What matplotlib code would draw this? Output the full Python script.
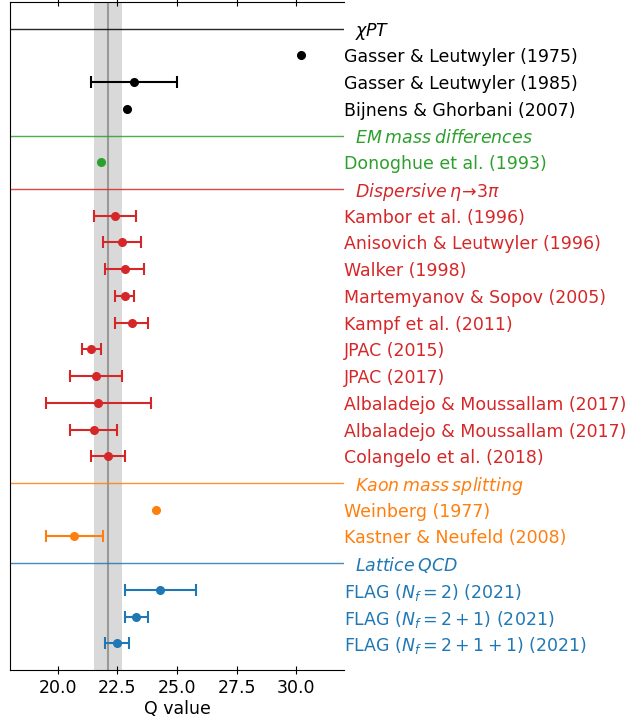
import matplotlib
matplotlib.use("Agg")
import matplotlib.pyplot as plt
import numpy as np

plt.rcParams["font.family"] = ["DejaVu Sans"]
plt.rcParams["mathtext.fontset"] = "dejavusans"

# Section headers: (label, colour)
groups = [
    (r"$\chi PT$", "black",
     ["Gasser & Leutwyler (1975)", "Gasser & Leutwyler (1985)", "Bijnens & Ghorbani (2007)"],
     [30.2, 23.2, 22.9],
     [0.0, 1.8, 0.0]),
    (r"$\it{EM\:mass\:differences}$", "tab:green",
     ["Donoghue et al. (1993)"],
     [21.8],
     [0.0]),
    (r"$\it{Dispersive}\:\eta\!\to\!3\pi$", "tab:red",
     ["Kambor et al. (1996)", "Anisovich & Leutwyler (1996)", "Walker (1998)",
      "Martemyanov & Sopov (2005)", "Kampf et al. (2011)", "JPAC (2015)", "JPAC (2017)",
      "Albaladejo & Moussallam (2017)", "Albaladejo & Moussallam (2017)",
      "Colangelo et al. (2018)"],
     [22.4, 22.7, 22.8, 22.8, 23.1, 21.4, 21.6, 21.7, 21.5, 22.1],
     [0.9, 0.8, 0.8, 0.4, 0.7, 0.4, 1.1, 2.2, 1.0, 0.7]),
    (r"$\it{Kaon\:mass\:splitting}$", "tab:orange",
     ["Weinberg (1977)", "Kastner & Neufeld (2008)"],
     [24.1, 20.7],
     [0.0, 1.2]),
    (r"$\it{Lattice\:QCD}$", "tab:blue",
     [r"FLAG ($N_f = 2$) (2021)", r"FLAG ($N_f = 2+1$) (2021)", r"FLAG ($N_f = 2+1+1$) (2021)"],
     [24.3, 23.3, 22.5],
     [1.5, 0.5, 0.5]),
]

band_center = 22.1
band_low, band_high = 21.5, 22.7
x_ticks = [20.0, 22.5, 25.0, 27.5, 30.0]

fig = plt.figure(figsize=(6.27, 7.2), dpi=100)
ax = fig.add_axes([10 / 627, 50 / 720, 334 / 627, 668 / 720])

ax.axvspan(band_low, band_high, color="#d9d9d9", zorder=0, lw=0)
ax.axvline(band_center, color="#999999", lw=1.5, zorder=1)

labels = []
colors = []
pos = 0
for header, col, names, vals, errs in groups:
    ax.axhline(pos, color=col, lw=1, alpha=0.85, zorder=2)
    labels.append("  " + header)
    colors.append(col)
    pos += 1
    for name, v, e in zip(names, vals, errs):
        if e > 0:
            ax.errorbar(v, pos, xerr=e, fmt="o", color=col, ms=5.5, capsize=4,
                        elinewidth=1.5, capthick=1.5, zorder=3)
        else:
            ax.plot(v, pos, "o", color=col, ms=5.5, zorder=3)
        labels.append(name)
        colors.append(col)
        pos += 1

n = pos
ax.set_ylim(n, -1)
ax.set_xlim(18, 32)
ax.set_yticks(range(n))
ax.set_yticklabels(labels, fontsize=12.5)
ax.yaxis.tick_right()
ax.tick_params(axis="y", length=0, pad=0)
for t, c in zip(ax.get_yticklabels(), colors):
    t.set_color(c)

ax.set_xticks(x_ticks)
ax.tick_params(axis="x", direction="inout", length=6, labelsize=12.5, top=True, labeltop=False)
ax.set_xlabel("Q value", fontsize=12.5, labelpad=2)
ax.spines["right"].set_visible(False)

fig.savefig("out.png", dpi=100)
